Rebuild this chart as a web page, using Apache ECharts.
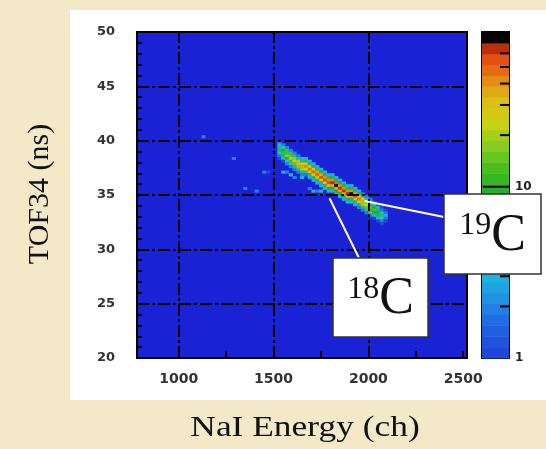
<!DOCTYPE html>
<html>
<head>
<meta charset="utf-8">
<script src="https://cdn.jsdelivr.net/npm/echarts@6/dist/echarts.min.js"></script>
<style>
  html, body { margin: 0; padding: 0; background: #f3e8c8; }
  #panel { position: absolute; left: 70px; top: 10px; width: 476px; height: 390px; background: #fff; }
  #chart { position: absolute; left: 0; top: 0; width: 546px; height: 449px; }
</style>
</head>
<body>
<div id="panel"></div>
<div id="chart"></div>
<script>
// bin size of the 2D histogram (ch, ns)
const DX = 20
const DY = 0.25
const Z_MAX = 80

const xLabelTicks = [1000, 1500, 2000, 2500]
const xTickMarks = [1000, 1250, 1500, 1750, 2000, 2250, 2500]
const xGridLines = [1000, 1500, 2000]
const cbLabels = [1, 10]

// the carbon band: one column per energy bin, counts listed from the top cell down
const bandX = [1520, 1540, 1560, 1580, 1600, 1620, 1640, 1660, 1680, 1700,
  1720, 1740, 1760, 1780, 1800, 1820, 1840, 1860, 1880, 1900,
  1920, 1940, 1960, 1980, 2000, 2020, 2040, 2060, 2080]
const bandTop = [39.75, 39.5, 39.25, 39.0, 38.75, 38.5, 38.25, 38.25, 38.0, 37.75,
  37.5, 37.25, 37.0, 36.75, 36.75, 36.5, 36.25, 36.0, 35.75, 35.75,
  35.5, 35.25, 35.0, 34.75, 34.5, 34.25, 34.0, 33.75, 33.75]
const bandCounts = [
  [2, 3, 6, 7, 4, 2, 1],
  [2, 4, 10, 13, 7, 3, 1],
  [2, 5, 13, 17, 10, 4, 2],
  [2, 5, 15, 21, 13, 4, 2],
  [2, 6, 17, 27, 15, 5, 2],
  [2, 6, 21, 31, 17, 5, 2],
  [3, 6, 25, 37, 19, 6, 2],
  [3, 7, 29, 43, 23, 6, 2],
  [3, 7, 31, 46, 25, 7, 3],
  [3, 7, 33, 49, 27, 7, 3],
  [3, 7, 35, 51, 29, 7, 3],
  [3, 8, 37, 53, 31, 7, 3],
  [3, 8, 39, 56, 31, 8, 3],
  [3, 8, 41, 59, 33, 8, 3],
  [3, 9, 43, 62, 35, 8, 3],
  [3, 9, 45, 73, 37, 9, 3],
  [3, 9, 43, 64, 35, 9, 3],
  [3, 8, 41, 60, 33, 8, 3],
  [3, 8, 41, 62, 33, 8, 3],
  [3, 8, 43, 71, 35, 8, 3],
  [3, 7, 37, 58, 31, 7, 3],
  [3, 7, 31, 48, 27, 7, 2],
  [2, 6, 23, 34, 21, 6, 2],
  [2, 5, 15, 22, 15, 5, 2],
  [2, 4, 12, 16, 11, 4, 2],
  [1, 3, 9, 12, 9, 3, 1],
  [1, 3, 7, 9, 7, 3, 1],
  [1, 2, 4, 6, 4, 2, 1],
  [0, 1, 2, 3, 2, 1, 0]
]

// isolated hits around the band [ch, ns, counts]
const strayHits = [
  [1120, 40.25, 2], [1280, 38.25, 2], [1340, 35.5, 2], [1400, 35.25, 2],
  [1440, 37.0, 2], [1460, 37.0, 1], [1540, 37.0, 3], [1560, 37.0, 2],
  [1580, 36.75, 3], [1600, 36.5, 2], [1640, 36.5, 3], [1660, 36.75, 2],
  [1680, 35.5, 2], [1700, 35.25, 3], [1720, 35.25, 2], [1740, 35.25, 3]
]

const cbTicks = [2, 3, 4, 5, 6, 7, 8, 9, 10, 20, 30, 40, 50, 60, 70, 80]

// annotations: anchor in data space, box in pixels
const notes = [
  { mass: '19', anchor: [1980, 34.45], box: [444, 194, 97, 80], end: [444, 217] },
  { mass: '18', anchor: [1795, 34.7], box: [333, 258, 95, 79], end: [359, 258] }
]

// ROOT-ish rainbow, position is log(z)/log(zmax)
const paletteStops = [
  [0.00, [32, 64, 216]], [0.12, [32, 110, 228]], [0.21, [32, 160, 228]],
  [0.29, [32, 196, 214]], [0.36, [32, 192, 170]], [0.45, [32, 184, 100]],
  [0.52, [40, 176, 40]], [0.58, [70, 190, 30]], [0.655, [140, 205, 30]],
  [0.72, [200, 210, 20]], [0.79, [220, 190, 20]], [0.84, [225, 150, 20]],
  [0.89, [228, 100, 20]], [0.94, [224, 64, 16]], [0.96, [150, 30, 10]],
  [0.965, [10, 5, 5]], [1.0, [0, 0, 0]]
]
const LEVELS = 30

function paletteAt(t) {
  for (let i = 1; i < paletteStops.length; i++) {
    const [t1, c1] = paletteStops[i]
    const [t0, c0] = paletteStops[i - 1]
    if (t <= t1) {
      const f = (t - t0) / (t1 - t0 || 1)
      const c = c0.map((v, k) => Math.round(v + (c1[k] - v) * f))
      return 'rgb(' + c.join(',') + ')'
    }
  }
  return '#000'
}

function zColor(z) {
  let t = Math.log(z) / Math.log(Z_MAX)
  t = Math.max(0, Math.min(0.9999, t))
  const lvl = Math.floor(t * LEVELS)
  return paletteAt((lvl + 0.5) / LEVELS)
}

const cells = []
bandX.forEach((x, i) => {
  bandCounts[i].forEach((z, j) => {
    if (z > 0) cells.push([x, bandTop[i] - j * DY, z])
  })
})
strayHits.forEach(h => cells.push(h))

const cbBands = []
for (let i = 0; i < LEVELS; i++) {
  cbBands.push([Math.pow(Z_MAX, i / LEVELS), Math.pow(Z_MAX, (i + 1) / LEVELS), (i + 0.5) / LEVELS])
}

const labelFont = { color: '#333', fontWeight: 'bold', fontFamily: 'DejaVu Sans' }
const gridDash = { color: '#000', width: 2, type: [12, 3, 3, 3] }

const chart = echarts.init(document.getElementById('chart'))

chart.setOption({
  animation: false,
  backgroundColor: 'transparent',
  grid: [
    { left: 137, top: 32, width: 330, height: 326, show: true, backgroundColor: '#1a22d6', borderColor: '#000', borderWidth: 2 },
    { left: 482, top: 32, width: 27, height: 326, show: true, borderColor: '#000', borderWidth: 2 }
  ],
  xAxis: [
    {
      type: 'value', gridIndex: 0, min: 780, max: 2520, z: 5,
      axisLine: { show: false },
      splitLine: { show: false },
      axisTick: { show: true, inside: true, length: 7, customValues: xTickMarks, lineStyle: { color: '#000', width: 2 } },
      axisLabel: { customValues: xLabelTicks, fontSize: 14, margin: 14, formatter: v => String(v), ...labelFont }
    },
    { type: 'value', gridIndex: 1, min: 0, max: 1, show: false }
  ],
  yAxis: [
    {
      type: 'value', gridIndex: 0, min: 20, max: 50, interval: 5, z: 5,
      axisLine: { show: false },
      axisTick: { show: true, inside: true, length: 9, lineStyle: { color: '#000', width: 2 } },
      minorTick: { show: true, splitNumber: 5, length: 5, lineStyle: { color: '#000', width: 2 } },
      splitLine: { show: true, lineStyle: gridDash },
      axisLabel: { fontSize: 13, margin: 22, ...labelFont }
    },
    {
      type: 'log', logBase: 10, gridIndex: 1, min: 1, max: Z_MAX, position: 'right',
      axisLine: { show: false }, axisTick: { show: false }, splitLine: { show: false },
      axisLabel: { fontSize: 12, margin: 6, ...labelFont, color: '#222', customValues: cbLabels, formatter: v => String(v) }
    }
  ],
  series: [
    {
      type: 'custom', xAxisIndex: 0, yAxisIndex: 0, clip: true,
      data: cells,
      renderItem(params, api) {
        const x = api.value(0), y = api.value(1)
        const a = api.coord([x, y + DY])
        const b = api.coord([x + DX, y])
        return {
          type: 'rect',
          shape: { x: a[0], y: a[1], width: b[0] - a[0] + 0.4, height: b[1] - a[1] + 0.4 },
          style: { fill: zColor(api.value(2)) }
        }
      },
      markLine: {
        silent: true, symbol: 'none', label: { show: false },
        lineStyle: gridDash,
        data: xGridLines.map(v => ({ xAxis: v }))
      }
    },
    {
      type: 'custom', xAxisIndex: 1, yAxisIndex: 1,
      data: cbBands,
      renderItem(params, api) {
        const a = api.coord([0, api.value(1)])
        const b = api.coord([1, api.value(0)])
        return {
          type: 'rect',
          shape: { x: a[0], y: a[1], width: b[0] - a[0], height: b[1] - a[1] + 0.5 },
          style: { fill: paletteAt(api.value(2)) }
        }
      }
    },
    {
      type: 'custom', xAxisIndex: 1, yAxisIndex: 1, z: 4,
      data: cbTicks,
      renderItem(params, api) {
        const v = api.value(0)
        const p = api.coord([1, v])
        const len = v === 10 ? 26 : 9
        return {
          type: 'line',
          shape: { x1: p[0] - len, y1: p[1], x2: p[0], y2: p[1] },
          style: { stroke: '#000', lineWidth: 2 }
        }
      }
    }
  ]
})

const serif = 'Liberation Serif'
const graphics = [
  {
    type: 'text', x: 40, y: 194, rotation: Math.PI / 2,
    style: { text: 'TOF34 (ns)', fontSize: 30, fontFamily: serif, fill: '#111', align: 'center', verticalAlign: 'middle' }
  },
  {
    type: 'text', x: 305, y: 428, scaleX: 1.18,
    style: { text: 'NaI Energy (ch)', fontSize: 30, fontFamily: serif, fill: '#111', align: 'center', verticalAlign: 'middle' }
  }
]

notes.forEach(n => {
  const p = chart.convertToPixel({ gridIndex: 0 }, n.anchor)
  const [bx, by, bw, bh] = n.box
  graphics.push({
    type: 'line', z: 50,
    shape: { x1: p[0], y1: p[1], x2: n.end[0], y2: n.end[1] },
    style: { stroke: '#fff', lineWidth: 2 }
  })
  graphics.push({
    type: 'rect', z: 51,
    shape: { x: bx, y: by, width: bw, height: bh },
    style: { fill: '#fff', stroke: '#333', lineWidth: 1.5 }
  })
  graphics.push({
    type: 'text', z: 52, x: bx + bw / 2, y: by + bh / 2 + 2,
    style: {
      text: '{s|' + n.mass + '}{c|C}',
      align: 'center', verticalAlign: 'middle',
      rich: {
        s: { fontSize: 32, fontFamily: serif, fill: '#111', verticalAlign: 'top', padding: [0, 0, 14, 0] },
        c: { fontSize: 52, fontFamily: serif, fill: '#111' }
      }
    }
  })
})

chart.setOption({ graphic: graphics })
</script>
</body>
</html>
